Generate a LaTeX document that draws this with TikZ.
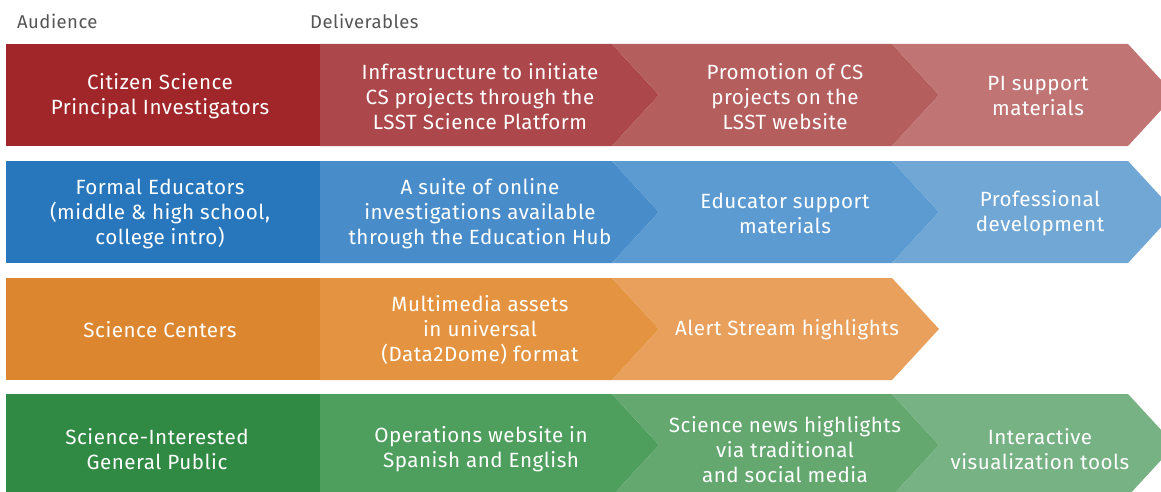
\documentclass[tikz,border=0pt]{standalone}
\usepackage{fontspec}
\setmainfont[LetterSpace=2.5]{Fira Sans}
\definecolor{rA}{RGB}{160,38,42}
\definecolor{rB}{RGB}{172,72,75}
\definecolor{rC}{RGB}{181,94,94}
\definecolor{rD}{RGB}{192,116,116}
\definecolor{bA}{RGB}{40,118,188}
\definecolor{bB}{RGB}{72,140,201}
\definecolor{bC}{RGB}{92,155,210}
\definecolor{bD}{RGB}{112,167,213}
\definecolor{oA}{RGB}{221,134,48}
\definecolor{oB}{RGB}{228,148,64}
\definecolor{oC}{RGB}{232,160,92}
\definecolor{gA}{RGB}{48,138,68}
\definecolor{gB}{RGB}{78,158,94}
\definecolor{gC}{RGB}{100,168,112}
\definecolor{gD}{RGB}{118,178,131}
\definecolor{hdr}{RGB}{85,85,85}
\tikzset{
  lbl/.style={text=white,align=center,font=\fontsize{20.6}{25}\selectfont,inner sep=0pt},
  hd/.style={text=hdr,anchor=base west,font=\fontsize{18.5}{20}\selectfont,inner sep=0pt}
}
% #1 top y, #2 color audience, #3,#4,#5 chevron colours (empty name = none)
\newcommand{\rowshapes}[5]{%
  \fill[#2] (6,#1) rectangle (320,#1+102);
  \fill[#3] (320,#1) -- (612,#1) -- (659,#1+51) -- (612,#1+102) -- (320,#1+102) -- cycle;
  \fill[#4] (612,#1) -- (892,#1) -- (939,#1+51) -- (892,#1+102) -- (612,#1+102) -- (659,#1+51) -- cycle;
  \ifx\relax#5\relax\else
  \fill[#5] (892,#1) -- (1128,#1) -- (1175,#1+51) -- (1128,#1+102) -- (892,#1+102) -- (939,#1+51) -- cycle;
  \fi
}
\begin{document}
\begin{tikzpicture}[x=1pt,y=-1pt]
\useasboundingbox (0,0) rectangle (1161,492);
\clip (0,0) rectangle (1161,492);
\node[hd] (hA) at (17,29) {Audience};
\node[hd] (hD) at (310,29) {Deliverables};

\rowshapes{44}{rA}{rB}{rC}{rD}
\rowshapes{161}{bA}{bB}{bC}{bD}
\rowshapes{278}{oA}{oB}{oC}{}
\rowshapes{394}{gA}{gB}{gC}{gD}

\node[lbl] (a1) at (160,96.5) {Citizen Science\\Principal Investigators};
\node[lbl] (d11) at (480,96.5) {Infrastructure to initiate\\CS projects through the\\LSST Science Platform};
\node[lbl] (d12) at (785,96.5) {Promotion of CS\\projects on the\\LSST website};
\node[lbl] (d13) at (1038,96.5) {PI support\\materials};

\node[lbl] (a2) at (160,213.5) {Formal Educators\\(middle \& high school,\\college intro)};
\node[lbl] (d21) at (480,213.5) {A suite of online\\investigations available\\through the Education Hub};
\node[lbl] (d22) at (785,213.5) {Educator support\\materials};
\node[lbl] (d23) at (1040,213.5) {Professional\\development};

\node[lbl] (a3) at (160,329.5) {Science Centers};
\node[lbl] (d31) at (480,329.5) {Multimedia assets\\in universal\\(Data2Dome) format};
\node[lbl] (d32) at (787,329.5) {Alert Stream highlights};

\node[lbl] (a4) at (157,449.5) {Science-Interested\\General Public};
\node[lbl] (d41) at (481,449.5) {Operations website in\\Spanish and English};
\node[lbl] (d42) at (785,449.5) {Science news highlights\\via traditional\\and social media};
\node[lbl] (d43) at (1040,449.5) {Interactive\\visualization tools};
\end{tikzpicture}
\end{document}
